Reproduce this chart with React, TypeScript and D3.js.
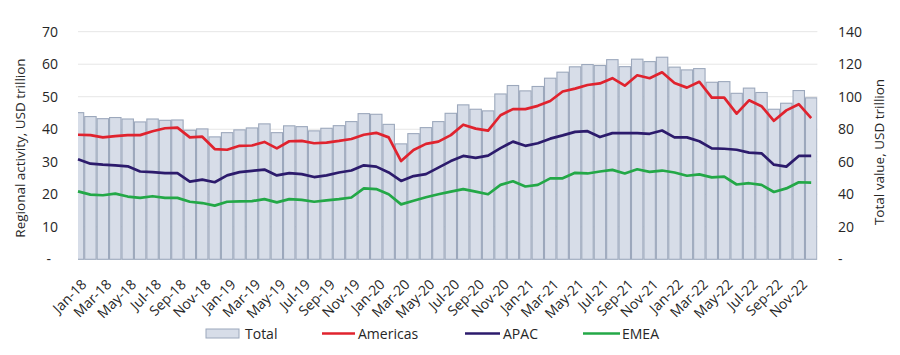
import React from 'react';
import * as d3 from 'd3';

const months = [
  'Jan-18','Feb-18','Mar-18','Apr-18','May-18','Jun-18','Jul-18','Aug-18','Sep-18','Oct-18','Nov-18','Dec-18',
  'Jan-19','Feb-19','Mar-19','Apr-19','May-19','Jun-19','Jul-19','Aug-19','Sep-19','Oct-19','Nov-19','Dec-19',
  'Jan-20','Feb-20','Mar-20','Apr-20','May-20','Jun-20','Jul-20','Aug-20','Sep-20','Oct-20','Nov-20','Dec-20',
  'Jan-21','Feb-21','Mar-21','Apr-21','May-21','Jun-21','Jul-21','Aug-21','Sep-21','Oct-21','Nov-21','Dec-21',
  'Jan-22','Feb-22','Mar-22','Apr-22','May-22','Jun-22','Jul-22','Aug-22','Sep-22','Oct-22','Nov-22','Dec-22',
];

const total = [
  90.2, 87.8, 86.5, 87.2, 86.3, 84.5, 86.3, 85.5, 85.7, 79.4, 80.2, 75.3,
  77.9, 79.6, 80.8, 83.3, 77.9, 82.1, 81.6, 79.0, 80.6, 82.2, 84.7, 89.6,
  89.2, 83.0, 71.0, 77.3, 81.0, 84.7, 89.8, 95.0, 92.3, 91.3, 101.7, 106.9,
  103.6, 106.3, 111.4, 115.1, 118.4, 119.8, 119.2, 122.8, 118.5, 123.1, 121.6, 124.3,
  118.2, 116.5, 117.3, 108.9, 109.3, 102.1, 105.3, 102.6, 92.3, 96.0, 103.8, 99.3,
];

const americas = [
  38.3, 38.2, 37.5, 37.9, 38.2, 38.2, 39.4, 40.3, 40.5, 37.5, 37.7, 33.9,
  33.7, 34.9, 35.0, 36.1, 34.1, 36.3, 36.4, 35.7, 35.9, 36.4, 37.0, 38.3,
  38.9, 37.5, 30.2, 33.6, 35.5, 36.2, 38.2, 41.4, 40.2, 39.6, 44.3, 46.2,
  46.2, 47.2, 48.7, 51.6, 52.5, 53.6, 54.1, 55.7, 53.4, 56.6, 55.7, 57.5,
  54.2, 52.8, 54.6, 49.7, 49.7, 44.8, 48.9, 47.1, 42.6, 45.8, 47.7, 43.4,
];

const apac = [
  30.8, 29.4, 29.1, 28.9, 28.6, 27.0, 26.8, 26.5, 26.5, 23.9, 24.5, 23.7,
  25.8, 26.8, 27.2, 27.6, 25.8, 26.5, 26.2, 25.3, 25.8, 26.7, 27.3, 28.9,
  28.5, 26.7, 24.1, 25.6, 26.2, 28.2, 30.2, 31.8, 31.2, 31.9, 34.2, 36.2,
  34.9, 35.7, 37.1, 38.1, 39.2, 39.4, 37.6, 38.8, 38.8, 38.8, 38.6, 39.6,
  37.5, 37.5, 36.3, 34.1, 34.0, 33.7, 32.8, 32.6, 29.1, 28.5, 31.8, 31.8,
];

const emea = [
  20.9, 19.9, 19.7, 20.2, 19.3, 18.9, 19.4, 18.9, 18.9, 17.7, 17.3, 16.5,
  17.7, 17.8, 17.9, 18.5, 17.5, 18.5, 18.3, 17.7, 18.1, 18.5, 19.0, 21.8,
  21.6, 20.0, 16.9, 18.0, 19.1, 20.0, 20.8, 21.6, 20.8, 20.0, 22.9, 24.0,
  22.4, 22.9, 24.9, 24.9, 26.6, 26.4, 27.0, 27.5, 26.4, 27.7, 26.9, 27.3,
  26.7, 25.7, 26.1, 25.2, 25.4, 23.0, 23.4, 22.9, 20.7, 21.8, 23.7, 23.6,
];

const leftTicks = [0, 10, 20, 30, 40, 50, 60, 70];
const rightTicks = [0, 20, 40, 60, 80, 100, 120, 140];
const xTickLabels = months.filter((_, i) => i % 2 === 0);

const seriesNames = ['Total', 'Americas', 'APAC', 'EMEA'];
const colors = { Americas: '#e0232e', APAC: '#2c1b6c', EMEA: '#23a847' };

const FONT = "'Open Sans', sans-serif";
const TXT = '#262626';

export default function App() {
  const W = 900, H = 355;
  const x0 = 78, x1 = 817.4, yTop = 31.7, yBot = 259.3;
  const x = d3.scaleLinear().domain([0, months.length - 0.5]).range([x0, x1]);
  const band = x(1) - x(0);
  const yL = d3.scaleLinear().domain([0, 70]).range([yBot, yTop]);
  const yR = d3.scaleLinear().domain([0, 140]).range([yBot, yTop]);
  const line = d3.line<number>().x((_, i) => x(i)).y((d) => yL(d));
  const lines: [string, number[]][] = [['Americas', americas], ['APAC', apac], ['EMEA', emea]];

  return (
    <svg width={W} height={H} style={{ position: 'absolute', left: 0, top: 0, background: '#fff' }} fontFamily={FONT}>
      <defs>
        <clipPath id="plot"><rect x={x0} y={0} width={x1 - x0} height={yBot + 1} /></clipPath>
      </defs>
      {leftTicks.filter((t) => t > 0).map((t) => (
        <line key={t} x1={x0} x2={x1} y1={yL(t)} y2={yL(t)} stroke="#e6e6e6" strokeWidth={1} />
      ))}
      <g clipPath="url(#plot)">
        {total.map((v, i) => (
          <rect key={i} x={x(i) - band / 2 + 0.5} y={yR(v)} width={band - 1} height={yBot - yR(v)}
            fill="#d7dde8" stroke="#9ca8bc" strokeWidth={1.1} />
        ))}
      </g>
      {lines.map(([name, data]) => (
        <path key={name} d={line(data) || ''} fill="none" stroke={(colors as any)[name]} strokeWidth={2.7} strokeLinejoin="round" />
      ))}
      {leftTicks.map((t) => (
        <text key={t} x={t === 0 ? 51 : 58} y={yL(t)} dy="0.35em" textAnchor="end" fontSize={14} fill={TXT}>
          {t === 0 ? '-' : t}
        </text>
      ))}
      {rightTicks.map((t) => (
        <text key={t} x={838} y={yR(t)} dy="0.35em" textAnchor="start" fontSize={14} fill={TXT}>
          {t === 0 ? '-' : t}
        </text>
      ))}
      <text transform={`translate(25,148) rotate(-90)`} textAnchor="middle" fontSize={13.5} fill={TXT}>
        Regional activity, USD trillion
      </text>
      <text transform={`translate(884,152) rotate(-90)`} textAnchor="middle" fontSize={13.5} fill={TXT}>
        Total value, USD trillion
      </text>
      {xTickLabels.map((lab, j) => (
        <text key={lab} transform={`translate(${x(j * 2) + 9.5},${yBot + 26}) rotate(-45)`} textAnchor="end" fontSize={14} fill={TXT}>
          {lab}
        </text>
      ))}
      <g fontSize={14} fill={TXT}>
        <rect x={206} y={329} width={33} height={9} fill="#d7dde8" stroke="#9ca8bc" strokeWidth={1} />
        <text x={245} y={338.5}>{seriesNames[0]}</text>
        <line x1={322} x2={355} y1={333.5} y2={333.5} stroke={colors.Americas} strokeWidth={2.6} />
        <text x={358} y={338.5}>{seriesNames[1]}</text>
        <line x1={465} x2={500} y1={333.5} y2={333.5} stroke={colors.APAC} strokeWidth={2.6} />
        <text x={503} y={338.5}>{seriesNames[2]}</text>
        <line x1={583} x2={620} y1={333.5} y2={333.5} stroke={colors.EMEA} strokeWidth={2.6} />
        <text x={622} y={338.5}>{seriesNames[3]}</text>
      </g>
    </svg>
  );
}
